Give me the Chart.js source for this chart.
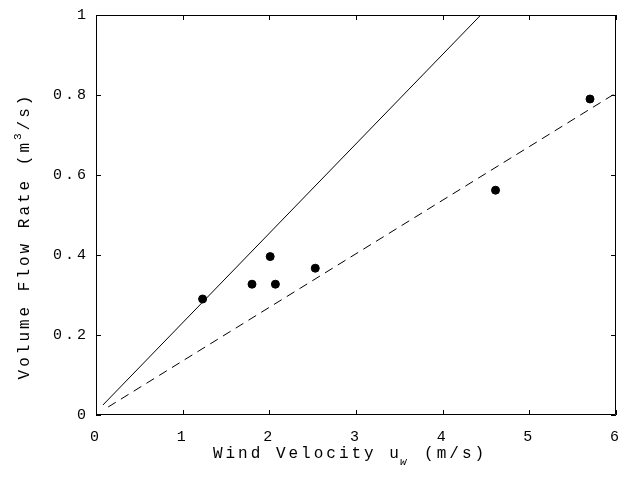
<!DOCTYPE html>
<html>
<head>
<meta charset="utf-8">
<script src="https://cdn.jsdelivr.net/npm/chart.js@4.4.1/dist/chart.umd.min.js"></script>
<style>
    html, body { margin: 0; padding: 0; background: #fff; }
    #wrap { width: 624px; height: 479px; }
</style>
</head>
<body>
<div id="wrap"><canvas id="chart"></canvas></div>
<script>
    'use strict'

    // measured points
    var windSpeed = [1.23, 1.80, 2.01, 2.07, 2.53, 4.61, 5.70];
    var flowRate = [0.290, 0.327, 0.396, 0.327, 0.367, 0.562, 0.790];

    // model lines (end points)
    var solidX = [0.08, 4.44];
    var solidY = [0.025, 1.0];
    var dashedX = [0.14, 6.0];
    var dashedY = [0.02, 0.805];

    var xTicks = [0, 1, 2, 3, 4, 5, 6];
    var yTicks = [0, 0.2, 0.4, 0.6, 0.8, 1];

    var FONT = '"Liberation Mono", "DejaVu Sans Mono", monospace';
    var SPACING = '3px';

    function toPoints(xs, ys) {
        var pts = [];
        for (var i = 0; i < xs.length; i++) {
            pts.push({x: xs[i], y: ys[i]});
        }
        return pts;
    }

    function setSpacing(chart) {
        chart.ctx.letterSpacing = SPACING;
    }

    // box with inward ticks on all four sides, plus axis titles with sub/superscript
    var boxPlugin = {
        id: 'box',
        beforeLayout: setSpacing,
        beforeDraw: setSpacing,
        afterDraw: function(chart) {
            var ctx = chart.ctx;
            var a = chart.chartArea;
            var xs = chart.scales.x, ys = chart.scales.y;
            var tl = 5;
            ctx.save();
            ctx.strokeStyle = '#000';
            ctx.lineWidth = 1;
            ctx.beginPath();
            ctx.rect(a.left + 0.5, a.top + 0.5, a.right - a.left - 1, a.bottom - a.top - 1);
            xTicks.forEach(function(v) {
                var px = Math.round(xs.getPixelForValue(v)) + 0.5;
                ctx.moveTo(px, a.bottom); ctx.lineTo(px, a.bottom - tl);
                ctx.moveTo(px, a.top); ctx.lineTo(px, a.top + tl);
            });
            yTicks.forEach(function(v) {
                var py = Math.round(ys.getPixelForValue(v)) + 0.5;
                ctx.moveTo(a.left, py); ctx.lineTo(a.left + tl, py);
                ctx.moveTo(a.right, py); ctx.lineTo(a.right - tl, py);
            });
            ctx.stroke();

            ctx.fillStyle = '#000';
            ctx.letterSpacing = SPACING;
            ctx.textBaseline = 'middle';

            // x title
            var main = 'Wind Velocity u', sub = 'w', tail = ' (m/s)';
            ctx.font = '16px ' + FONT;
            var w1 = ctx.measureText(main).width;
            var w3 = ctx.measureText(tail).width;
            ctx.font = '11px ' + FONT;
            var w2 = ctx.measureText(sub).width;
            var x0 = 350 - (w1 + w2 + w3) / 2;
            var ty = 454;
            ctx.textAlign = 'left';
            ctx.font = '16px ' + FONT;
            ctx.fillText(main, x0, ty);
            ctx.font = 'italic 11px ' + FONT;
            ctx.fillText(sub, x0 + w1 - 2, ty + 8);
            ctx.font = '16px ' + FONT;
            ctx.fillText(tail, x0 + w1 + w2, ty);

            // y title
            var yMain = 'Volume Flow Rate (m', ySup = '3', yTail = '/s)';
            ctx.translate(25, 236);
            ctx.rotate(-Math.PI / 2);
            ctx.font = '16px ' + FONT;
            var v1 = ctx.measureText(yMain).width;
            var v3 = ctx.measureText(yTail).width;
            ctx.font = '11px ' + FONT;
            var v2 = ctx.measureText(ySup).width;
            var s0 = -(v1 + v2 + v3) / 2;
            ctx.font = '16px ' + FONT;
            ctx.fillText(yMain, s0, 0);
            ctx.font = '11px ' + FONT;
            ctx.fillText(ySup, s0 + v1, -7);
            ctx.font = '16px ' + FONT;
            ctx.fillText(yTail, s0 + v1 + v2, 0);
            ctx.restore();
        }
    };

    var data = {
        datasets: [
            {
                label: 'measured',
                data: toPoints(windSpeed, flowRate),
                backgroundColor: '#000',
                borderColor: '#000',
                pointRadius: 4,
                showLine: false
            },
            {
                label: 'solid',
                data: toPoints(solidX, solidY),
                borderColor: '#000',
                borderWidth: 1,
                pointRadius: 0,
                showLine: true
            },
            {
                label: 'dashed',
                data: toPoints(dashedX, dashedY),
                borderColor: '#000',
                borderWidth: 1,
                borderDash: [9, 6],
                pointRadius: 0,
                showLine: true
            }
        ]
    };

    var tickFont = {family: FONT, size: 15};

    new Chart(document.getElementById('chart'), {
        type: 'scatter',
        data: data,
        plugins: [boxPlugin],
        options: {
            responsive: true,
            maintainAspectRatio: false,
            animation: false,
            events: [],
            layout: {padding: {top: 15, right: 8, left: 0, bottom: 0}},
            plugins: {legend: {display: false}, tooltip: {enabled: false}},
            scales: {
                x: {
                    type: 'linear',
                    min: 0,
                    max: 6,
                    grid: {display: false, drawTicks: false},
                    border: {display: false},
                    ticks: {stepSize: 1, color: '#000', font: tickFont, padding: 13, maxRotation: 0},
                    afterFit: function(scale) {
                        scale.height = 64;
                        scale.paddingLeft = 0;
                        scale.paddingRight = 0;
                    }
                },
                y: {
                    type: 'linear',
                    min: 0,
                    max: 1,
                    grid: {display: false, drawTicks: false},
                    border: {display: false},
                    ticks: {
                        stepSize: 0.2,
                        color: '#000',
                        font: tickFont,
                        padding: 7,
                        callback: function(value) {
                            return String(Math.round(value * 10) / 10);
                        }
                    },
                    afterFit: function(scale) {
                        scale.width = 96;
                        scale.paddingTop = 0;
                        scale.paddingBottom = 0;
                    }
                }
            }
        }
    });
</script>
</body>
</html>
